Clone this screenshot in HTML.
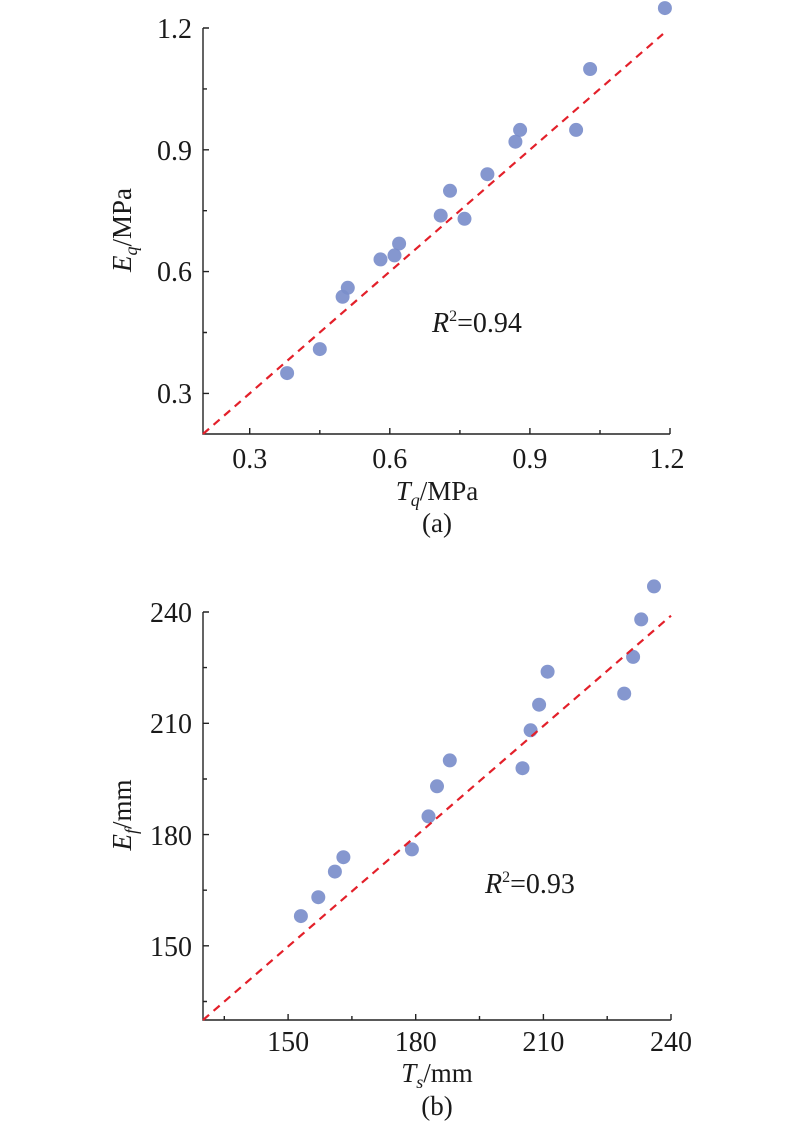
<!DOCTYPE html>
<html><head><meta charset="utf-8"><style>
html,body{margin:0;padding:0;background:#fff}
svg{display:block}
text{font-family:"Liberation Serif",serif;fill:#1a1a1a}
</style></head><body>
<svg width="800" height="1127" viewBox="0 0 800 1127" xmlns="http://www.w3.org/2000/svg">
<g stroke="#222" stroke-width="1.4" fill="none">
<path d="M203 28 V434 H670"/>
<path d="M249.7 434v-6M389.8 434v-6M529.9 434v-6M670 434v-6M319.8 434v-4M459.9 434v-4M600 434v-4"/>
<path d="M203 393.4h6M203 271.6h6M203 149.8h6M203 28h6M203 332.5h4M203 210.7h4M203 88.9h4"/>
<path d="M203 612 V1020 H671"/>
<path d="M288.1 1020v-6M415.7 1020v-6M543.4 1020v-6M671 1020v-6M224.3 1020v-4M351.9 1020v-4M479.5 1020v-4M607.2 1020v-4"/>
<path d="M203 945.8h6M203 834.6h6M203 723.3h6M203 612h6M203 1001.5h4M203 890.2h4M203 779h4M203 667.6h4"/>
</g>
<g fill="#7b8ecb" fill-opacity="0.92">
<circle cx="664.9" cy="8.1" r="7"/><circle cx="590.1" cy="69" r="7"/><circle cx="576.1" cy="129.9" r="7"/>
<circle cx="520.1" cy="129.9" r="7"/><circle cx="515.4" cy="141.7" r="7"/><circle cx="487.4" cy="174.2" r="7"/>
<circle cx="450" cy="190.8" r="7"/><circle cx="440.7" cy="215.6" r="7"/><circle cx="464.5" cy="218.8" r="7"/>
<circle cx="399.1" cy="243.6" r="7"/><circle cx="394.5" cy="255.4" r="7"/><circle cx="380.5" cy="259.4" r="7"/>
<circle cx="347.8" cy="287.8" r="7"/><circle cx="342.6" cy="296.8" r="7"/><circle cx="319.8" cy="349.1" r="7"/>
<circle cx="287.1" cy="373.1" r="7"/>
<circle cx="654" cy="586.4" r="7"/><circle cx="641.2" cy="619.4" r="7"/><circle cx="633.1" cy="656.9" r="7"/>
<circle cx="624.2" cy="693.6" r="7"/><circle cx="547.6" cy="671.7" r="7"/><circle cx="539.1" cy="704.7" r="7"/>
<circle cx="530.6" cy="730.3" r="7"/><circle cx="522.5" cy="768.2" r="7"/><circle cx="449.8" cy="760.4" r="7"/>
<circle cx="437" cy="786.3" r="7"/><circle cx="428.5" cy="816.4" r="7"/><circle cx="411.9" cy="849.4" r="7"/>
<circle cx="343.4" cy="857.2" r="7"/><circle cx="334.9" cy="871.6" r="7"/><circle cx="318.3" cy="897.2" r="7"/>
<circle cx="300.9" cy="916.1" r="7"/>
</g>
<g stroke="#e3202a" stroke-width="2.2" stroke-dasharray="8,6" fill="none">
<path d="M203 434 L663 34"/>
<path d="M203 1020 L671 615.7"/>
</g>
<g font-size="28">
<g text-anchor="end">
<text x="192" y="403">0.3</text><text x="192" y="281">0.6</text><text x="192" y="160">0.9</text><text x="192" y="38">1.2</text>
<text x="192" y="956">150</text><text x="192" y="845">180</text><text x="192" y="733">210</text><text x="192" y="622">240</text>
</g>
<g text-anchor="middle">
<text x="249.7" y="468">0.3</text><text x="389.8" y="468">0.6</text><text x="529.9" y="468">0.9</text><text x="667" y="468">1.2</text>
<text x="288.1" y="1051">150</text><text x="415.7" y="1051">180</text><text x="543.4" y="1051">210</text><text x="671" y="1051">240</text>
</g>
<g text-anchor="middle" font-size="27">
<text x="437" y="500"><tspan font-style="italic">T</tspan><tspan font-style="italic" font-size="18" dy="6">q</tspan><tspan dy="-6">/MPa</tspan></text>
<text x="437" y="532">(a)</text>
<text x="437" y="1082"><tspan font-style="italic">T</tspan><tspan font-style="italic" font-size="18" dy="6">s</tspan><tspan dy="-6">/mm</tspan></text>
<text x="437" y="1115">(b)</text>
<text transform="translate(131 230) rotate(-90)"><tspan font-style="italic">E</tspan><tspan font-style="italic" font-size="18" dy="6">q</tspan><tspan dy="-6">/MPa</tspan></text>
<text transform="translate(131 815) rotate(-90)"><tspan font-style="italic">E</tspan><tspan font-style="italic" font-size="18" dy="6">f</tspan><tspan dy="-6">/mm</tspan></text>
</g>
<text x="432" y="332" font-size="28"><tspan font-style="italic">R</tspan><tspan font-size="16" dy="-11">2</tspan><tspan dy="11">=0.94</tspan></text>
<text x="485" y="893" font-size="28"><tspan font-style="italic">R</tspan><tspan font-size="16" dy="-11">2</tspan><tspan dy="11">=0.93</tspan></text>
</g>
</svg>
</body></html>
